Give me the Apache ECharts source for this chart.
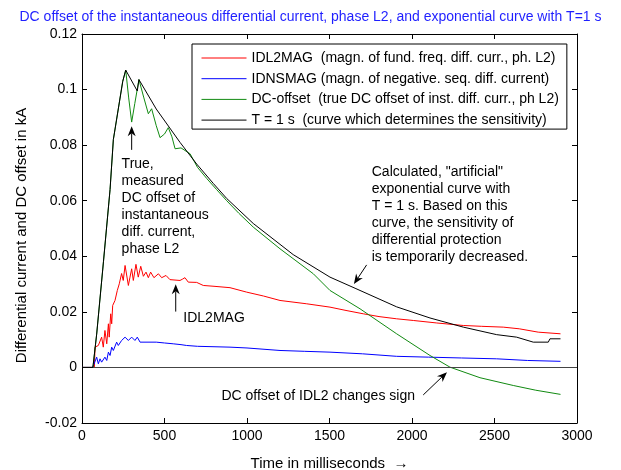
<!DOCTYPE html>
<html><head><meta charset="utf-8">
<script src="https://cdn.jsdelivr.net/npm/echarts@6/dist/echarts.min.js"></script>
<style>html,body{margin:0;padding:0;background:#fff}#c{width:621px;height:470px}</style>
</head><body><div id="c"></div>
<script>
const FONT = '"Liberation Sans", Arial, Helvetica, sans-serif';
const titleText = 'DC offset of the instantaneous differential current, phase L2, and exponential curve with T=1 s';
const xTicks = [0, 500, 1000, 1500, 2000, 2500, 3000];
const yTicks = [-0.02, 0, 0.02, 0.04, 0.06, 0.08, 0.1, 0.12];
const seriesNames = [
  'IDL2MAG  (magn. of fund. freq. diff. curr., ph. L2)',
  'IDNSMAG (magn. of negative. seq. diff. current)',
  'DC-offset  (true DC offset of inst. diff. curr., ph L2)',
  'T = 1 s  (curve which determines the sensitivity)'
];
const redT = [0,75,79,99,119,129,139,150,160,165,174,180,186,200,214,226,240,250,261,271,281,291,301,311,327,341,356,372,388,402,416,436,463,483,509,533,594,610,624,644,695,735,800,897,998,1100,1200,1362,1503,1600,1705,1800,1907,2008,2150,2311,2420,2553,2650,2765,2900];
const redV = [0,0,0.0073,0.0079,0.0109,0.0073,0.0133,0.0085,0.0157,0.0109,0.0193,0.0157,0.0223,0.0241,0.0277,0.0301,0.0338,0.0313,0.0367,0.0373,0.0295,0.0325,0.0355,0.0313,0.0371,0.0325,0.0364,0.0328,0.0343,0.0323,0.0343,0.0323,0.0337,0.0323,0.0331,0.0316,0.0313,0.0318,0.0323,0.0307,0.0306,0.0295,0.0292,0.0287,0.0271,0.0257,0.0241,0.0229,0.0217,0.0205,0.0193,0.0183,0.0175,0.0169,0.0160,0.0151,0.0148,0.0145,0.0139,0.0127,0.0121];
const blueT = [0,65,68,89,99,109,119,139,150,160,170,180,190,210,220,240,261,281,301,321,335,352,450,500,553,600,634,700,897,1000,1200,1350,1503,1700,1907,2100,2300,2513,2700,2900];
const blueV = [0,0,0.0007,0.0037,0.0013,0.0031,0.0019,0.0037,0.0025,0.0055,0.0043,0.0073,0.0061,0.0091,0.0079,0.0097,0.0109,0.0097,0.0109,0.0097,0.0109,0.0091,0.0091,0.0088,0.0085,0.0082,0.0079,0.0076,0.0073,0.0070,0.0061,0.0058,0.0055,0.0049,0.0040,0.0037,0.0034,0.0031,0.0025,0.0022];
const greenT = [0,66,68,89,130,170,190,247,265,283,301,320,345,375,402,422,450,473,500,523,545,564,600,655,700,756,816,877,950,1038,1200,1402,1503,1685,1907,2109,2230,2412,2614,2750,2900];
const greenV = [0,0,0.001,0.012,0.038,0.064,0.082,0.103,0.107,0.097,0.0883,0.095,0.1036,0.097,0.0913,0.0931,0.087,0.0827,0.084,0.0863,0.083,0.0787,0.079,0.0769,0.072,0.068,0.064,0.060,0.0555,0.0505,0.0427,0.0337,0.0277,0.0211,0.0121,0.0043,0.0001,-0.0037,-0.0065,-0.0082,-0.0097];
const blackT = [0,66,68,89,130,170,190,247,265,335,345,450,594,695,796,877,1038,1280,1503,1655,1907,2109,2311,2513,2634,2735,2826,2836,2900];
const blackV = [0,0,0.001,0.012,0.038,0.064,0.082,0.103,0.107,0.0995,0.1036,0.093,0.0810,0.0732,0.0662,0.0608,0.0518,0.0406,0.0325,0.0285,0.0218,0.0178,0.0145,0.0118,0.0109,0.0091,0.0091,0.0103,0.0103];

const colors = ['#ff0000', '#0000ff', '#118a11', '#000000'];
const zip = (t, v) => t.map((x, i) => [x, v[i]]);
const allData = [zip(redT, redV), zip(blueT, blueV), zip(greenT, greenV), zip(blackT, blackV)];

const annTexts = [
  {text: 'True,\nmeasured\nDC offset of\ninstantaneous\ndiff. current,\nphase L2', at: [240, 0.0764]},
  {text: 'IDL2MAG', at: [614, 0.0179], middle: true},
  {text: 'Calculated, "artificial"\nexponential curve with\nT = 1 s. Based on this\ncurve, the sensitivity of\ndifferential protection\nis temporarily decreased.', at: [1756, 0.0734]},
  {text: 'DC offset of IDL2 changes sign', at: [2018, -0.0102], right: true}
];
const annArrows = [
  {from: [301, 0.0783], to: [301, 0.0868]},
  {from: [568, 0.0201], to: [568, 0.0299]},
  {from: [1725, 0.0369], to: [1648, 0.0300]},
  {from: [2068, -0.0099], to: [2212, -0.0017]}
];

const chart = echarts.init(document.getElementById('c'), null, {renderer: 'canvas'});
const axisLineStyle = {color: '#000', width: 1};
const option = {
  animation: false,
  backgroundColor: '#fff',
  textStyle: {fontFamily: FONT},
  title: {text: titleText, left: 'center', top: 5,
    textStyle: {color: '#1f1fff', fontSize: 14, fontWeight: 'normal', fontFamily: FONT}},
  grid: {left: 82, top: 34, width: 495, height: 389, show: false, containLabel: false, outerBoundsMode: 'none'},
  legend: {
    orient: 'vertical', left: 192, top: 44, selectedMode: false,
    padding: [7, 8, 2, 9], itemGap: 6.7, itemWidth: 45, itemHeight: 16,
    backgroundColor: '#fff', borderColor: '#000', borderWidth: 1,
    itemStyle: {opacity: 0},
    lineStyle: {width: 1},
    textStyle: {fontSize: 14, color: '#000', fontFamily: FONT},
    data: seriesNames
  },
  xAxis: [
    {type: 'value', min: 0, max: 3000, interval: 500, position: 'bottom',
     name: 'Time in milliseconds  \u2192', nameLocation: 'middle', nameGap: 33,
     nameTextStyle: {fontSize: 15, color: '#000', fontFamily: FONT},
     axisLine: {onZero: false, lineStyle: axisLineStyle},
     axisTick: {inside: true, length: 5, lineStyle: axisLineStyle},
     axisLabel: {color: '#000', fontSize: 14, margin: 6, fontFamily: FONT, showMinLabel: true, showMaxLabel: true,
       formatter: v => String(v)},
     splitLine: {show: false}},
    {type: 'value', min: 0, max: 3000, interval: 500, position: 'top',
     axisLine: {onZero: false, lineStyle: axisLineStyle},
     axisTick: {inside: true, length: 5, lineStyle: axisLineStyle},
     axisLabel: {show: false}, splitLine: {show: false}}
  ],
  yAxis: [
    {type: 'value', min: -0.02, max: 0.12, interval: 0.02, position: 'left',
     name: 'Differential current and DC offset in kA', nameLocation: 'middle', nameGap: 53,
     nameTextStyle: {fontSize: 15, color: '#000', fontFamily: FONT, padding: [0, 14, 0, 0]},
     axisLine: {onZero: false, lineStyle: axisLineStyle},
     axisTick: {inside: true, length: 5, lineStyle: axisLineStyle},
     axisLabel: {color: '#000', fontSize: 14, margin: 5, fontFamily: FONT,
       formatter: v => String(Math.round(v * 100) / 100)},
     splitLine: {show: false}},
    {type: 'value', min: -0.02, max: 0.12, interval: 0.02, position: 'right',
     axisLine: {onZero: false, lineStyle: axisLineStyle},
     axisTick: {inside: true, length: 5, lineStyle: axisLineStyle},
     axisLabel: {show: false}, splitLine: {show: false}}
  ],
  series: seriesNames.map((n, i) => ({
    name: n, type: 'line', data: allData[i], symbol: 'none', showSymbol: false,
    xAxisIndex: 0, yAxisIndex: 0,
    lineStyle: {color: colors[i], width: 1}, itemStyle: {color: colors[i]},
    z: 2 + i,
    markLine: i === 0 ? {silent: true, symbol: 'none', label: {show: false},
      lineStyle: {color: '#444', width: 1, type: 'solid'}, data: [{yAxis: 0}]} : undefined
  }))
};
chart.setOption(option);

function px(p) { return chart.convertToPixel({xAxisIndex: 0, yAxisIndex: 0}, p); }
function arrow(p1, p2) {
  const dx = p2[0] - p1[0], dy = p2[1] - p1[1];
  const L = Math.hypot(dx, dy), ux = dx / L, uy = dy / L, nx = -uy, ny = ux;
  const hl = 10, hw = 4;
  const base = [p2[0] - ux * hl, p2[1] - uy * hl];
  const notch = [p2[0] - ux * hl * 0.7, p2[1] - uy * hl * 0.7];
  return [
    {type: 'line', shape: {x1: p1[0], y1: p1[1], x2: notch[0], y2: notch[1]}, style: {stroke: '#000', lineWidth: 1}, z: 50},
    {type: 'polygon', shape: {points: [p2, [base[0] + nx * hw, base[1] + ny * hw], notch, [base[0] - nx * hw, base[1] - ny * hw]]}, style: {fill: '#000'}, z: 50}
  ];
}
const graphics = [];
annTexts.forEach(a => {
  const p = px(a.at);
  graphics.push({type: 'text', x: p[0], y: p[1], z: 50,
    style: {text: a.text, font: '14px ' + FONT, fill: '#000', lineHeight: 17,
      align: a.right ? 'right' : 'left', verticalAlign: a.middle || a.right ? 'middle' : 'top'}});
});
annArrows.forEach(a => { graphics.push(...arrow(px(a.from), px(a.to))); });
chart.setOption({graphic: graphics});
</script></body></html>
